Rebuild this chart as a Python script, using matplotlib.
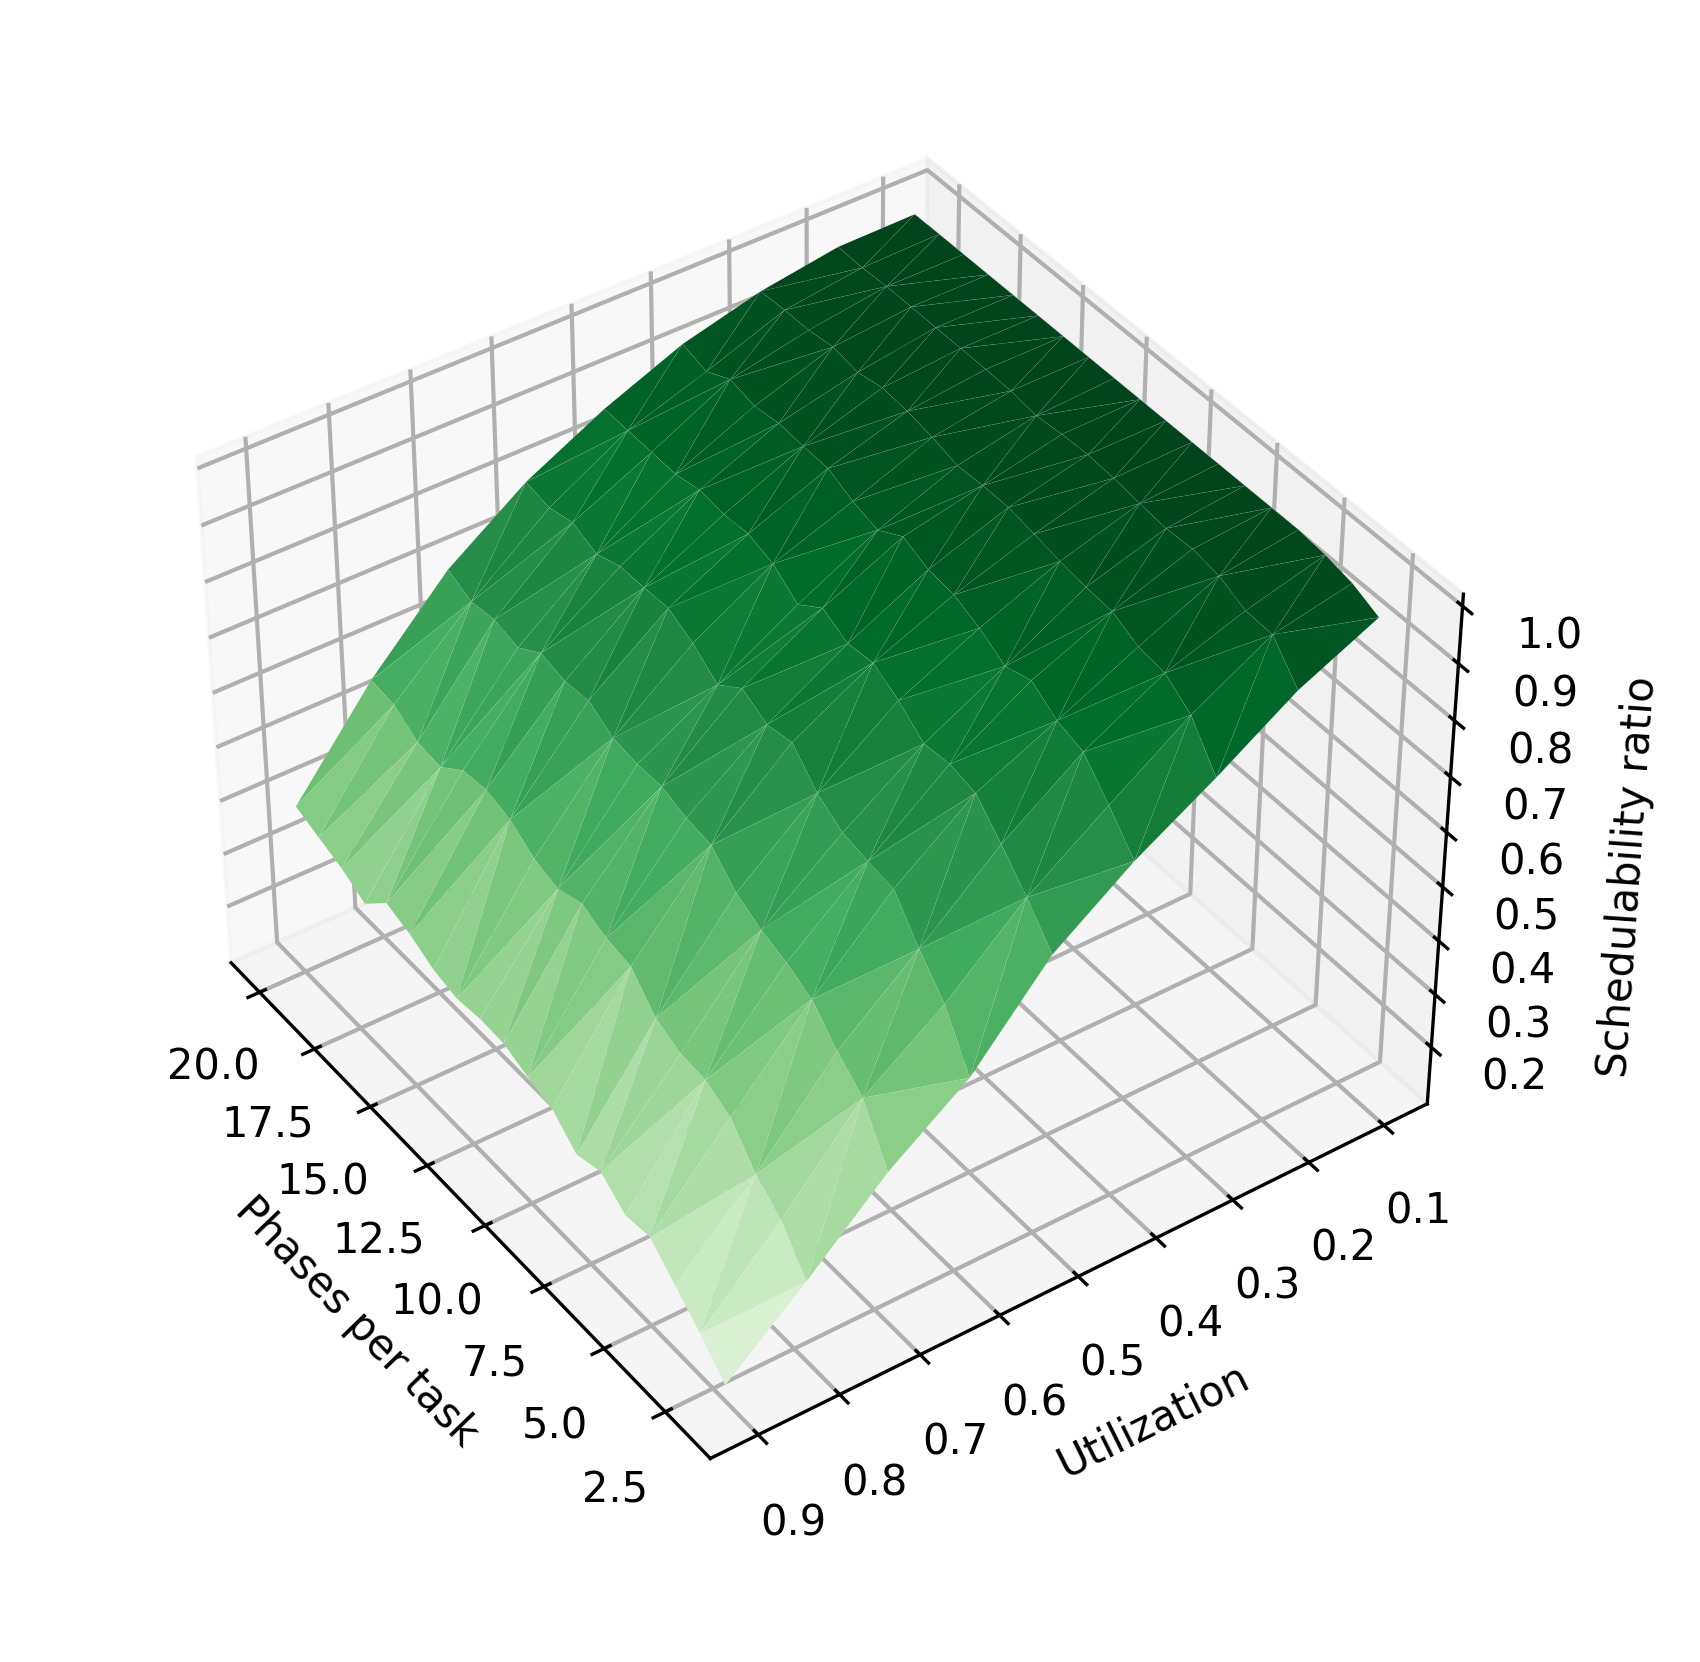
import matplotlib
matplotlib.use('Agg')
import matplotlib.pyplot as plt
import numpy as np

phases = [2, 3, 4, 5, 6, 7, 8, 9, 10, 11, 12, 13, 14, 15, 16, 17, 18, 19, 20]
utilization = [0.1, 0.2, 0.3, 0.4, 0.5, 0.6, 0.7, 0.8, 0.9]

# one row per utilization, one column per phases value
ratio_u1 = [.965, .985, .995, 1, 1, 1, 1, 1, 1, 1, 1, 1, 1, 1, 1, 1, 1, 1, 1]
ratio_u2 = [.901, .958, .960, .981, .989, .986, .991, .997, 1, .998, .993, .999, 1, 1, 1, 1, 1, .997, .998]
ratio_u3 = [.812, .881, .914, .920, .942, .945, .951, .960, .968, .968, .965, .977, .985, .989, .979, .987, .980, .979, .976]
ratio_u4 = [.730, .787, .840, .854, .884, .869, .896, .915, .920, .939, .912, .924, .944, .945, .948, .941, .951, .928, .940]
ratio_u5 = [.630, .690, .742, .791, .801, .796, .832, .858, .852, .875, .842, .875, .889, .885, .890, .880, .881, .882, .883]
ratio_u6 = [.476, .566, .622, .687, .694, .703, .732, .781, .772, .796, .762, .796, .819, .816, .815, .798, .816, .804, .812]
ratio_u7 = [.374, .465, .506, .556, .579, .595, .619, .663, .670, .685, .684, .690, .717, .711, .722, .692, .703, .696, .715]
ratio_u8 = [.243, .312, .350, .410, .434, .438, .459, .510, .519, .539, .524, .536, .566, .579, .573, .538, .543, .571, .576]
ratio_u9 = [.122, .172, .216, .260, .254, .290, .276, .317, .331, .349, .351, .345, .356, .379, .394, .350, .374, .390, .406]

ratio_rows = [ratio_u1, ratio_u2, ratio_u3, ratio_u4, ratio_u5, ratio_u6, ratio_u7, ratio_u8, ratio_u9]

P, U = np.meshgrid(phases, utilization)
Z = np.array(ratio_rows)

plt.rcParams['axes3d.automargin'] = True
plt.rcParams['grid.linewidth'] = 1.0
fig = plt.figure(figsize=(5.667, 5.54), dpi=300)
ax = fig.add_axes([0.069, 0.103, 0.808, 0.826], projection='3d')

# points listed phases first
surf = ax.plot_trisurf(P.T.ravel(), U.T.ravel(), Z.T.ravel(), cmap='Greens', vmin=0, vmax=1,
                       edgecolor=(1, 1, 1, 0.12), linewidth=0.12)

ax.set_xlim(1.1, 20.9)
ax.set_ylim(0.06, 0.94)
ax.set_zlim(0.11, 1.002)
ax.set_yticks([0.1, 0.2, 0.3, 0.4, 0.5, 0.6, 0.7, 0.8, 0.9])
ax.set_zticks([0.2, 0.3, 0.4, 0.5, 0.6, 0.7, 0.8, 0.9, 1.0])

ax.set_xlabel('Phases per task')
ax.set_ylabel('Utilization')
ax.set_zlabel('Schedulability ratio')
ax.view_init(elev=40, azim=145)

fig.savefig('out.png', dpi=300)
